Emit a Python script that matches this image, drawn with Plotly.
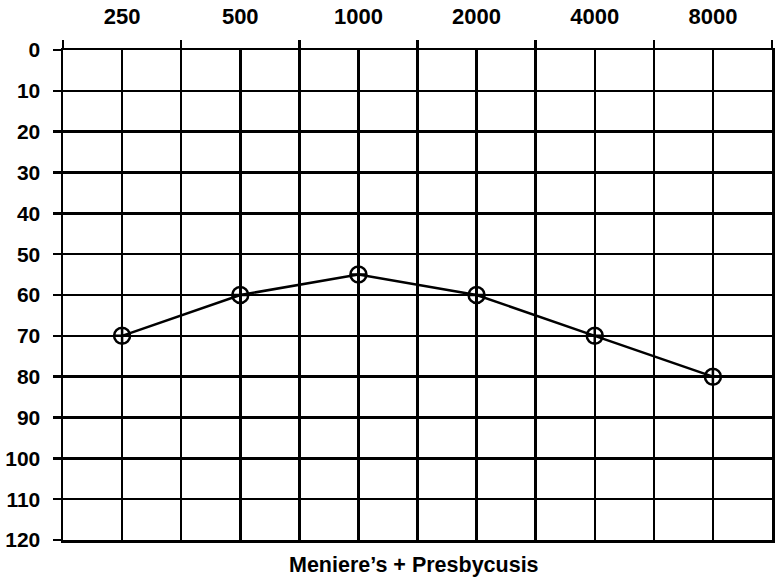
import math
import plotly.graph_objects as go

frequencies = [250, 500, 1000, 2000, 4000, 8000]
freq_labels = ["250", "500", "1000", "2000", "4000", "8000"]
thresholds_db = [70, 60, 55, 60, 70, 80]
db_ticks = list(range(0, 130, 10))
title_text = "Meniere\u2019s + Presbycusis"

xpos = [math.log2(f / 250) for f in frequencies]

FONT = "Liberation Sans, Arial, Helvetica, sans-serif"
LW = 2.5

fig = go.Figure()
fig.add_trace(go.Scatter(
    x=xpos, y=thresholds_db, mode="lines+markers",
    line=dict(color="black", width=LW),
    marker=dict(symbol="circle-cross-open", size=16, color="black",
                line=dict(color="black", width=2.5)),
    showlegend=False, hoverinfo="skip",
))

fig.update_layout(
    width=777, height=582,
    margin=dict(l=63, r=5, t=50, b=42),
    paper_bgcolor="white", plot_bgcolor="white",
    hovermode=False,
    xaxis=dict(
        side="top", range=[-0.5, 5.5], automargin=False,
        tickmode="array", tickvals=xpos, ticktext=freq_labels,
        ticks="", showgrid=True, gridcolor="black", gridwidth=LW,
        showline=True, linecolor="black", linewidth=LW, mirror=True,
        zeroline=False, ticklabelstandoff=15,
        tickfont=dict(family=FONT, size=22, color="black", weight="bold"),
        minor=dict(tickmode="linear", tick0=-0.5, dtick=1, showgrid=True,
                   gridcolor="black", gridwidth=LW, ticks="outside",
                   ticklen=8, tickwidth=LW, tickcolor="black"),
        fixedrange=True,
    ),
    yaxis=dict(
        range=[120, 0], tickmode="array", tickvals=db_ticks, automargin=False,
        ticks="outside", ticklen=8, tickwidth=LW, tickcolor="black",
        showgrid=True, gridcolor="black", gridwidth=LW,
        showline=True, linecolor="black", linewidth=LW, mirror=True,
        zeroline=False, ticklabelstandoff=8,
        tickfont=dict(family=FONT, size=21, color="black", weight="bold"),
        fixedrange=True,
    ),
    annotations=[dict(
        text=title_text, xref="paper", yref="paper", x=0.495, y=0,
        yshift=-25, yanchor="middle", xanchor="center", showarrow=False,
        font=dict(family=FONT, size=21.5, color="black", weight="bold"),
    )],
)

# remove the default 8px body margin so the figure fills the window exactly
fig.write_html("out.html", config={"displayModeBar": False, "staticPlot": True},
               post_script="document.body.style.margin='0';")
